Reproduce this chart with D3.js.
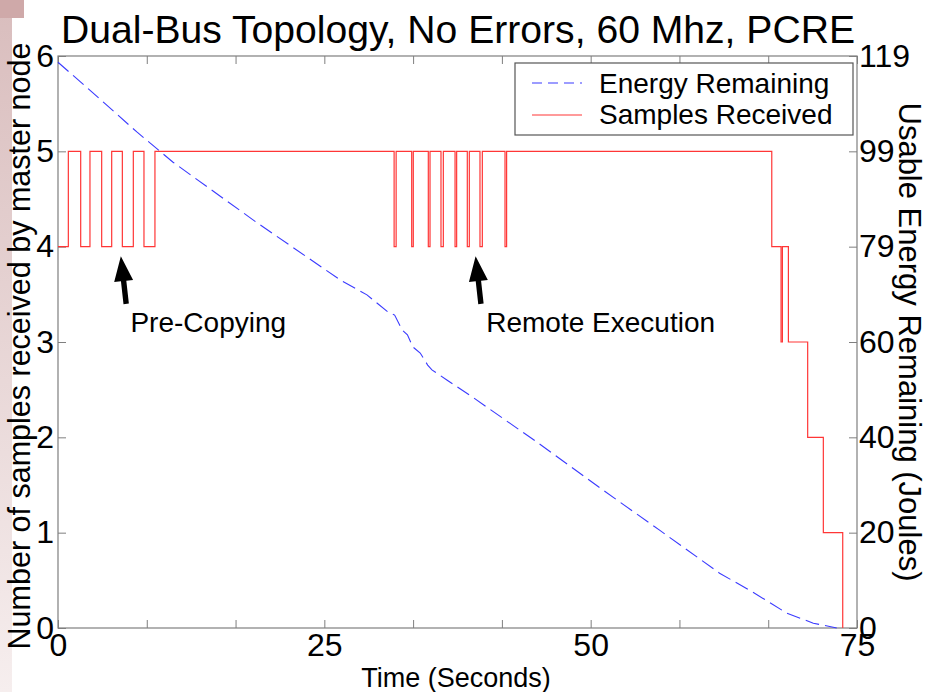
<!DOCTYPE html>
<html>
<head>
<meta charset="utf-8">
<script src="https://cdn.jsdelivr.net/npm/d3@7"></script>
<style>
  html, body { margin: 0; padding: 0; background: #fff; }
  svg { display: block; font-family: "Liberation Sans", Arial, sans-serif; }
</style>
</head>
<body>
<svg id="chart" width="930" height="692"></svg>
<script>
// ---------- data ----------
const title = "Dual-Bus Topology, No Errors, 60 Mhz, PCRE";
const xLabel = "Time (Seconds)";
const yLeftLabel = "Number of samples received by master node";
const yRightLabel = "Usable Energy Remaining (Joules)";

const xTickValues = [0, 8.333, 16.667, 25, 33.333, 41.667, 50, 58.333, 66.667, 75];
const xTickLabels = ["0", "", "", "25", "", "", "50", "", "", "75"];
const yLeftTicks = [0, 1, 2, 3, 4, 5, 6];
const yRightTickLabels = ["0", "20", "40", "60", "79", "99", "119"];

// Energy remaining (Joules) vs time (s)
const energyTime = [0, 3.2, 7.4, 10.8, 18.5, 26.5, 29.0, 31.0, 31.6, 32.3, 32.8, 33.3, 34.0, 34.7, 35.1, 36.5, 39.0, 45.0, 50.9, 56.5, 62.1, 65.2, 68.4, 70.9, 73.1];
const energyValue = [117.7, 111.5, 103.2, 96.9, 84.6, 72.4, 69.3, 65.7, 65.1, 62.0, 61.0, 58.5, 57.2, 54.7, 53.7, 51.6, 47.9, 38.6, 29.1, 20.3, 11.4, 7.5, 3.1, 1.0, 0];

// Samples received (step function, value holds until next time)
const sampleTime = [0, 0.97, 2.13, 3.0, 4.1, 5.04, 6.04, 7.07, 8.07, 9.1,
  31.55, 31.74, 33.2, 33.35, 34.76, 34.92, 35.95, 36.17, 37.27, 37.42,
  38.42, 38.61, 39.61, 39.83, 41.96, 42.11,
  67.0, 67.87, 68.0, 68.56, 70.37, 71.84, 73.66];
const sampleValue = [4, 5, 4, 5, 4, 5, 4, 5, 4, 5,
  4, 5, 4, 5, 4, 5, 4, 5, 4, 5,
  4, 5, 4, 5, 4, 5,
  4, 3, 4, 3, 2, 1, 0];

const legendLabels = ["Energy Remaining", "Samples Received"];
const annotationText = ["Pre-Copying", "Remote Execution"];
const annotationTipT = [5.9, 39.2];
const annotationTailT = [6.4, 39.7];
const annotationTipV = [3.9, 3.9];
const annotationTailV = [3.4, 3.4];
const annotationTextT = [6.8, 40.2];
const annotationTextV = [3.1, 3.1];

// ---------- layout ----------
const svg = d3.select("#chart");
const W = 930, H = 692;
const L = 58, R = 857, T = 56, B = 628;
const axisGray = "#7f7f7f";
const font = 32;

// background slide tint at left edge
const defs = svg.append("defs");
const grad = defs.append("linearGradient").attr("id", "edge").attr("x1", 0).attr("y1", 0).attr("x2", 0).attr("y2", 1);
grad.append("stop").attr("offset", "0%").attr("stop-color", "#d9bdbd");
grad.append("stop").attr("offset", "100%").attr("stop-color", "#f6eeee");
svg.append("rect").attr("width", W).attr("height", H).attr("fill", "#fff");
svg.append("rect").attr("x", 0).attr("y", 0).attr("width", 12).attr("height", H).attr("fill", "url(#edge)");
svg.append("rect").attr("x", 0).attr("y", 0).attr("width", 24).attr("height", 18).attr("fill", "#cfa9a9");

const x = d3.scaleLinear().domain([0, 75]).range([L, R]);
const yL = d3.scaleLinear().domain([0, 6]).range([B, T]);
const yR = d3.scaleLinear().domain([0, 119]).range([B, T]);

// axes
function styleAxis(g) {
  g.select(".domain").remove();
  g.selectAll(".tick line").attr("stroke", axisGray);
  g.selectAll(".tick text").attr("fill", "#000").style("font-size", font + "px");
}
svg.append("g").attr("transform", `translate(0,${B})`)
  .call(d3.axisBottom(x).tickValues(xTickValues).tickSize(-8).tickPadding(4)
    .tickFormat((d, i) => xTickLabels[i]))
  .call(styleAxis)
  .selectAll(".tick text").attr("dy", "0.74em");
svg.append("g").attr("transform", `translate(0,${T})`)
  .call(d3.axisTop(x).tickValues(xTickValues).tickSize(-8).tickFormat(""))
  .call(styleAxis);
svg.append("g").attr("transform", `translate(${L},0)`)
  .call(d3.axisLeft(yL).tickValues(yLeftTicks).tickSize(-8).tickPadding(4).tickFormat(d3.format("d")))
  .call(styleAxis);
const rightTickVals = yRightTickLabels.map((s, i) => i * 119 / (yRightTickLabels.length - 1));
svg.append("g").attr("transform", `translate(${R},0)`)
  .call(d3.axisRight(yR).tickValues(rightTickVals).tickSize(-8).tickPadding(2)
    .tickFormat((d, i) => yRightTickLabels[i]))
  .call(styleAxis);

// frame
svg.append("rect").attr("x", L).attr("y", T).attr("width", R - L).attr("height", B - T)
  .attr("fill", "none").attr("stroke", axisGray).attr("stroke-width", 1.2);

// energy line
const energyData = energyTime.map((t, i) => [t, energyValue[i]]);
svg.append("path").datum(energyData)
  .attr("fill", "none").attr("stroke", "#3a3aff").attr("stroke-width", 1.1)
  .attr("stroke-dasharray", "14,6")
  .attr("d", d3.line().x(d => x(d[0])).y(d => yR(d[1])));

// samples line
const sampleData = sampleTime.map((t, i) => [t, sampleValue[i]]);
svg.append("path").datum(sampleData)
  .attr("fill", "none").attr("stroke", "#ff3636").attr("stroke-width", 1.2)
  .attr("d", d3.line().curve(d3.curveStepAfter).x(d => x(d[0])).y(d => yL(d[1])));

// annotations: arrows and text
annotationText.forEach((txt, i) => {
  const x1 = x(annotationTailT[i]), y1 = yL(annotationTailV[i]);
  const x2 = x(annotationTipT[i]), y2 = yL(annotationTipV[i]);
  const ang = Math.atan2(y2 - y1, x2 - x1);
  const headLen = 25, headW = 9.5, shaftW = 2.7;
  const bx = x2 - headLen * Math.cos(ang), by = y2 - headLen * Math.sin(ang);
  const px = -Math.sin(ang), py = Math.cos(ang);
  const pts = [
    [x1 + px * shaftW, y1 + py * shaftW],
    [bx + px * shaftW, by + py * shaftW],
    [bx + px * headW, by + py * headW],
    [x2, y2],
    [bx - px * headW, by - py * headW],
    [bx - px * shaftW, by - py * shaftW],
    [x1 - px * shaftW, y1 - py * shaftW]
  ];
  svg.append("polygon").attr("points", pts.map(p => p.join(",")).join(" ")).attr("fill", "#000");
  svg.append("text").attr("x", x(annotationTextT[i])).attr("y", yL(annotationTextV[i]))
    .style("font-size", "28px").attr("fill", "#000").text(txt);
});

// legend
const lg = svg.append("g");
lg.append("rect").attr("x", 515).attr("y", 63).attr("width", 338).attr("height", 72)
  .attr("fill", "#fff").attr("stroke", "#555").attr("stroke-width", 1.2);
lg.append("line").attr("x1", 532).attr("x2", 582).attr("y1", 83).attr("y2", 83)
  .attr("stroke", "#3a3aff").attr("stroke-width", 1.1).attr("stroke-dasharray", "10,6");
lg.append("line").attr("x1", 532).attr("x2", 582).attr("y1", 115).attr("y2", 115)
  .attr("stroke", "#ff3636").attr("stroke-width", 1.2);
legendLabels.forEach((s, i) => {
  lg.append("text").attr("x", 599).attr("y", 93 + i * 31)
    .style("font-size", "28px").attr("fill", "#000").text(s);
});

// titles
svg.append("text").attr("x", 458).attr("y", 43).attr("text-anchor", "middle")
  .style("font-size", "39px").attr("textLength", 794).attr("lengthAdjust", "spacingAndGlyphs")
  .attr("fill", "#000").text(title);
svg.append("text").attr("x", 456).attr("y", 687).attr("text-anchor", "middle")
  .style("font-size", "27px").attr("fill", "#000").text(xLabel);
svg.append("text").attr("transform", `translate(30,346) rotate(-90)`)
  .attr("text-anchor", "middle").style("font-size", "30.5px").attr("fill", "#000").text(yLeftLabel);
svg.append("text").attr("transform", `translate(899,342) rotate(90)`)
  .attr("text-anchor", "middle").style("font-size", "31px").attr("fill", "#000").text(yRightLabel);
</script>
</body>
</html>
